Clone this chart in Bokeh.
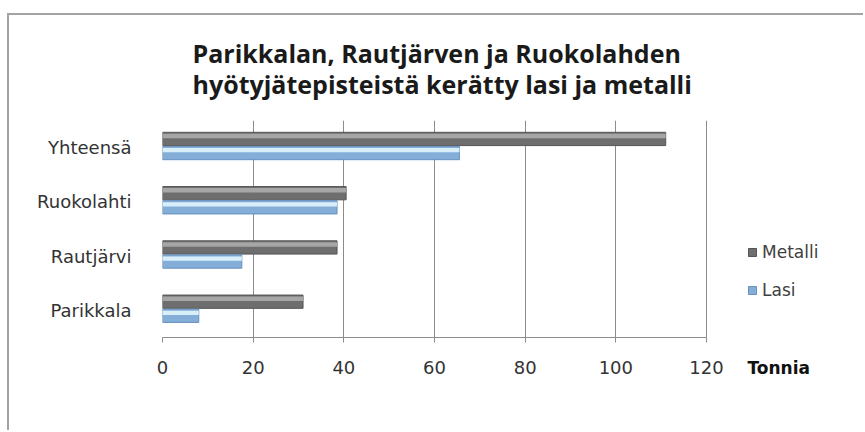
from bokeh.plotting import figure
from bokeh.models import (FactorRange, Range1d, Legend, LegendItem,
                          Title, FixedTicker, ColumnDataSource)
from bokeh.transform import dodge
from bokeh.embed import file_html
from bokeh.resources import INLINE

# ---- data ----
categories = ["Parikkala", "Rautjärvi", "Ruokolahti", "Yhteensä"]
metalli = [31, 38.5, 40.5, 111]
lasi = [8, 17.5, 38.5, 65.5]
x_ticks = [0, 20, 40, 60, 80, 100, 120]
title_lines = ["Parikkalan, Rautjärven ja Ruokolahden",
               "hyötyjätepisteistä kerätty lasi ja metalli"]
x_unit_label = "Tonnia"
series_names = ["Metalli", "Lasi"]

src = ColumnDataSource(dict(cat=categories, metalli=metalli, lasi=lasi))

AX_FONT = "DejaVu Sans"
TEXT_COL = "#333333"
GRID_COL = "#8c8c8c"

# layout: value axis 0..120 occupies 544 px; the plot frame extends further
# right (693 px) so the legend can sit inside it.
AXIS_PX, FRAME_PX = 544, 693
x_end = x_ticks[-1] * FRAME_PX / AXIS_PX

p = figure(width=856, height=417,
           y_range=FactorRange(*categories), x_range=Range1d(0, x_end),
           output_backend="svg", toolbar_location=None,
           min_border_left=153, min_border_right=10,
           min_border_top=105, min_border_bottom=95,
           styles={"margin-left": "7px", "margin-top": "13px",
                   "border-left": "2px solid #a3a3a3",
                   "border-top": "2px solid #a3a3a3"})
p.outline_line_color = None
p.background_fill_color = "white"
p.border_fill_color = "white"

# bars: base + highlight stripe to mimic the bevelled look
r_met = p.hbar(y=dodge("cat", 0.16, range=p.y_range), left=0, right="metalli",
               height=0.245, source=src, fill_color="#6e6e6e", line_color="#555555")
p.hbar(y=dodge("cat", 0.215, range=p.y_range), left=0, right="metalli",
       height=0.08, source=src, fill_color="#a6a6a6", line_color=None)
r_las = p.hbar(y=dodge("cat", -0.10, range=p.y_range), left=0, right="lasi",
               height=0.245, source=src, fill_color="#84aed8", line_color="#6790bd")
p.hbar(y=dodge("cat", -0.045, range=p.y_range), left=0, right="lasi",
       height=0.08, source=src, fill_color="#d8eef9", line_color=None)

# grid / axes
p.xgrid.ticker = FixedTicker(ticks=x_ticks)
p.xgrid.grid_line_color = GRID_COL
p.ygrid.grid_line_color = None

xa = p.xaxis[0]
xa.ticker = FixedTicker(ticks=x_ticks)
xa.bounds = (x_ticks[0], x_ticks[-1])
xa.axis_line_color = GRID_COL
xa.major_tick_line_color = GRID_COL
xa.major_tick_out = 5
xa.major_tick_in = 0
xa.minor_tick_line_color = None
xa.major_label_standoff = 18
xa.major_label_text_font = AX_FONT
xa.major_label_text_font_size = "18px"
xa.major_label_text_color = TEXT_COL

ya = p.yaxis[0]
ya.axis_line_color = None
ya.major_tick_line_color = None
ya.minor_tick_line_color = None
ya.major_label_standoff = 25
ya.major_label_text_font = AX_FONT
ya.major_label_text_font_size = "18px"
ya.major_label_text_color = TEXT_COL

# two-line title
p.add_layout(Title(text="\n".join(title_lines), align="left", offset=30,
                   text_font="Open Sans", text_font_style="bold",
                   text_font_size="25px", text_color="#1a1a1a",
                   text_line_height=0.92, standoff=38), "above")

# unit label beside the x-axis tick labels
p.add_layout(Title(text=x_unit_label, align="left", offset=585,
                   vertical_align="top", standoff=-38,
                   text_font=AX_FONT, text_font_style="bold",
                   text_font_size="17px", text_color="#111111"), "below")

# series legend (inside the widened frame, right of the value axis)
legend = Legend(items=[LegendItem(label=series_names[0], renderers=[r_met]),
                       LegendItem(label=series_names[1], renderers=[r_las])],
                location=(585, 37), glyph_width=10, glyph_height=10,
                label_height=10, spacing=18, padding=5, margin=0,
                border_line_color=None, background_fill_alpha=0,
                label_standoff=5, label_text_font=AX_FONT,
                label_text_font_size="17px", label_text_color="#404040")
p.add_layout(legend, "center")

open("out.html", "w").write(file_html(p, INLINE))
